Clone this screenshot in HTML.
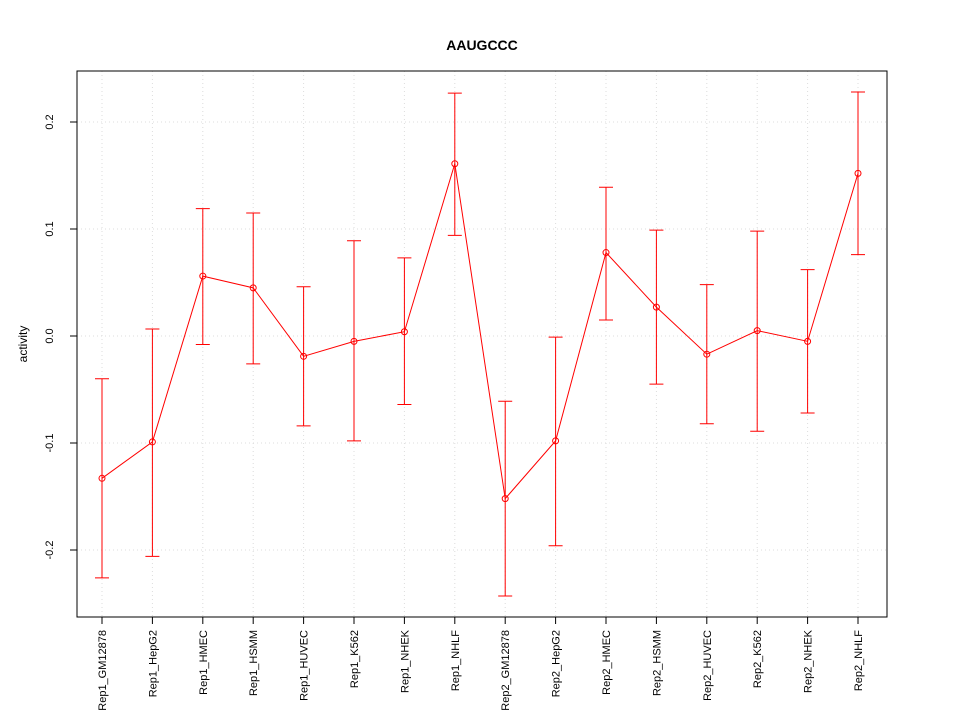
<!DOCTYPE html>
<html><head><meta charset="utf-8"><style>
body{margin:0;background:#fff}
svg text{font-family:"Liberation Sans",sans-serif}
</style></head><body>
<svg id="chart" width="960" height="720" xmlns="http://www.w3.org/2000/svg">
<rect width="960" height="720" fill="#fff"/>
<text x="482" y="50" text-anchor="middle" font-size="14" font-weight="bold">AAUGCCC</text>
<text transform="translate(27,344) rotate(-90)" text-anchor="middle" font-size="12">activity</text>
<g id="grid"></g><g id="axes"></g><g id="marks"></g>
<rect x="77" y="71" width="810" height="546" fill="none" stroke="#000"/>
</svg>
<script>
const categories=["Rep1_GM12878","Rep1_HepG2","Rep1_HMEC","Rep1_HSMM","Rep1_HUVEC","Rep1_K562","Rep1_NHEK","Rep1_NHLF","Rep2_GM12878","Rep2_HepG2","Rep2_HMEC","Rep2_HSMM","Rep2_HUVEC","Rep2_K562","Rep2_NHEK","Rep2_NHLF"];
const values=[-0.133,-0.099,0.056,0.045,-0.019,-0.005,0.004,0.161,-0.152,-0.098,0.078,0.027,-0.017,0.005,-0.005,0.152];
const upper=[-0.040,0.0065,0.119,0.115,0.046,0.089,0.073,0.227,-0.061,-0.001,0.139,0.099,0.048,0.098,0.062,0.228];
const lower=[-0.226,-0.206,-0.008,-0.026,-0.084,-0.098,-0.064,0.094,-0.243,-0.196,0.015,-0.045,-0.082,-0.089,-0.072,0.076];
const yTicks=[-0.2,-0.1,0.0,0.1,0.2];
const yTickLabels=["-0.2","-0.1","0.0","0.1","0.2"];
const NS="http://www.w3.org/2000/svg";
function x(i){return 102+i*(858-102)/(categories.length-1);}
function y(v){return 336-v*1070;}
function mk(tag,attrs,parent){const e=document.createElementNS(NS,tag);for(const k in attrs)e.setAttribute(k,attrs[k]);parent.appendChild(e);return e;}
const grid=document.getElementById('grid'),axes=document.getElementById('axes'),marks=document.getElementById('marks');
categories.forEach((c,i)=>{
 const g=mk('line',{x1:x(i),x2:x(i),y1:71,y2:617,stroke:'#dcdcdc','stroke-dasharray':'1,3'},grid);
 
 
 const t=mk('line',{x1:x(i),x2:x(i),y1:617,y2:624,stroke:'#000'},axes);
 
 
 const l=mk('text',{transform:`translate(${x(i)+4},630) rotate(-90)`,'text-anchor':'end','font-size':'11'},axes);
 l.textContent=c;
 
 
});
yTicks.forEach((v,i)=>{
 const g=mk('line',{x1:77,x2:887,y1:y(v),y2:y(v),stroke:'#dcdcdc','stroke-dasharray':'1,3'},grid);
 
 
 const t=mk('line',{x1:70,x2:77,y1:y(v),y2:y(v),stroke:'#000'},axes);
 
 
 const l=mk('text',{transform:`translate(53,${y(v)}) rotate(-90)`,'text-anchor':'middle','font-size':'11'},axes);
 l.textContent=yTickLabels[i];
 
 
});
const pl=mk('polyline',{points:values.map((v,i)=>x(i)+','+y(v)).join(' '),fill:'none',stroke:'#ff0000'},marks);


values.forEach((v,i)=>{
 const eb=mk('path',{d:`M${x(i)},${y(upper[i])}V${y(lower[i])}M${x(i)-7},${y(upper[i])}H${x(i)+7}M${x(i)-7},${y(lower[i])}H${x(i)+7}`,stroke:'#ff0000',fill:'none'},marks);
 
 
 const p=mk('circle',{cx:x(i),cy:y(v),r:3,fill:'none',stroke:'#ff0000'},marks);
 
 
});
</script>
</body></html>
